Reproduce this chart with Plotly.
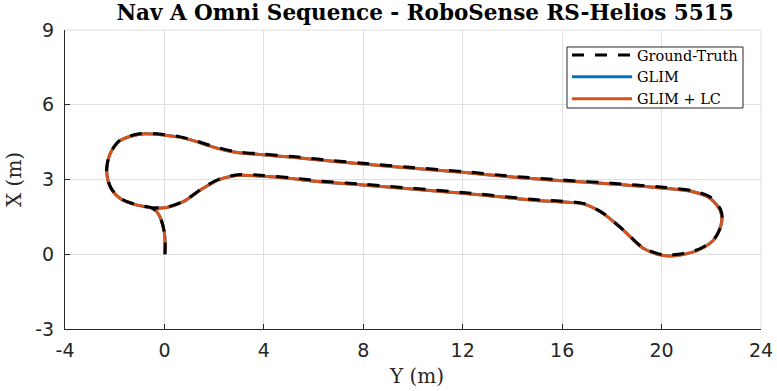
import plotly.graph_objects as go

# Trajectory (horizontal axis = Y in m, vertical axis = X in m)
lc_y = [0.02, 0.03, 0.0, -0.12, -0.3, -0.5, -1.1, -1.75, -2.15, -2.32, -2.2, -1.8, -1.0, -0.05, 0.6, 1.2,
        1.97, 2.8, 3.84, 5.18, 6.26, 8.0, 10.0, 12.0, 14.0, 16.0, 18.0, 20.07, 21.27, 21.95, 22.35, 22.42,
        22.15, 21.55, 20.74, 20.07, 19.26, 18.46, 17.65, 16.85, 15.9, 15.1, 12.0, 8.0, 6.26, 5.18, 3.84,
        3.04, 2.23, 1.56, 0.76, 0.09, -0.5]
lc_x = [0.0, 0.4, 0.85, 1.35, 1.7, 1.85, 1.97, 2.22, 2.65, 3.3, 4.0, 4.55, 4.82, 4.79, 4.7, 4.55,
        4.3, 4.1, 4.0, 3.89, 3.78, 3.62, 3.45, 3.29, 3.1, 2.95, 2.82, 2.65, 2.51, 2.25, 1.78, 1.31,
        0.64, 0.2, -0.03, -0.05, 0.24, 0.97, 1.64, 2.02, 2.11, 2.15, 2.45, 2.78, 2.91, 3.03, 3.14,
        3.17, 3.01, 2.65, 2.11, 1.88, 1.85]

glim_y = list(lc_y)
glim_x = list(lc_x)

gt_y = [0.02, 0.03, 0.0, -0.12, -0.3, -0.5, -1.1, -1.75, -2.15, -2.33, -2.2, -1.8, -1.0, -0.05, 0.6, 1.2,
        1.97, 2.8, 3.84, 5.18, 6.26, 8.0, 10.0, 12.0, 14.0, 16.0, 18.0, 20.07, 21.3, 22.0, 22.38, 22.44,
        22.15, 21.55, 20.74, 20.07, 19.26, 18.46, 17.65, 16.85, 15.9, 15.1, 12.0, 8.0, 6.26, 5.18, 3.84,
        3.04, 2.23, 1.56, 0.76, 0.09, -0.5]
gt_x = [0.0, 0.4, 0.85, 1.35, 1.7, 1.86, 1.98, 2.23, 2.66, 3.3, 4.01, 4.57, 4.84, 4.81, 4.72, 4.57,
        4.33, 4.13, 4.03, 3.92, 3.81, 3.65, 3.48, 3.32, 3.13, 2.98, 2.85, 2.69, 2.54, 2.27, 1.78, 1.31,
        0.66, 0.23, 0.01, -0.02, 0.26, 0.98, 1.65, 2.04, 2.14, 2.18, 2.48, 2.81, 2.94, 3.06, 3.17,
        3.2, 3.03, 2.67, 2.12, 1.89, 1.86]

x_ticks = [-4, 0, 4, 8, 12, 16, 20, 24]
y_ticks = [-3, 0, 3, 6, 9]

BLUE = "#0072BD"
ORANGE = "#D95319"

W, H = 777, 391
L, R, T, B = 65, 16, 30, 62
PW, PH = W - L - R, H - T - B


def px(x):
    return (x - L) / PW


def py(y):
    return (H - B - y) / PH


fig = go.Figure()
fig.add_trace(go.Scatter(x=glim_y, y=glim_x, mode="lines", name="GLIM", legendrank=2,
                         line=dict(color=BLUE, width=3, shape="spline", smoothing=0.8)))
fig.add_trace(go.Scatter(x=lc_y, y=lc_x, mode="lines", name="GLIM + LC", legendrank=3,
                         line=dict(color=ORANGE, width=3, shape="spline", smoothing=0.8)))
fig.add_trace(go.Scatter(x=gt_y, y=gt_x, mode="lines", name="Ground-Truth", legendrank=1,
                         line=dict(color="black", width=3, dash="12px,11px", shape="spline", smoothing=0.8)))

tick_font = dict(family="DejaVu Sans", size=19, color="#262626")
fig.update_layout(
    width=W, height=H,
    margin=dict(l=L, r=R, t=T, b=B, autoexpand=False),
    paper_bgcolor="white", plot_bgcolor="white",
    title=dict(text="<b>Nav A Omni Sequence - RoboSense RS-Helios 5515</b>",
               x=425 / W, xanchor="center", xref="container",
               y=1 - 12 / H, yanchor="middle", yref="container",
               font=dict(family="DejaVu Serif", size=21.5, color="black")),
    xaxis=dict(range=[-4, 24], tickvals=x_ticks, ticktext=[str(v) for v in x_ticks],
               automargin=False,
               showgrid=True, gridcolor="#dfdfdf", gridwidth=1, zeroline=False,
               showline=True, linecolor="#262626", linewidth=1,
               ticks="inside", ticklen=5, tickcolor="#262626", tickfont=tick_font,
               ticklabelstandoff=4),
    yaxis=dict(range=[-3, 9], tickvals=y_ticks, ticktext=[str(v) for v in y_ticks],
               automargin=False,
               showgrid=True, gridcolor="#dfdfdf", gridwidth=1, zeroline=False,
               showline=True, linecolor="#262626", linewidth=1,
               ticks="inside", ticklen=5, tickcolor="#262626", tickfont=tick_font,
               ticklabelstandoff=6),
    legend=dict(x=px(567), y=py(39), xanchor="left", yanchor="top",
                bgcolor="rgba(0,0,0,0)", borderwidth=0,
                font=dict(family="DejaVu Serif", size=14.5, color="black"),
                itemwidth=60, tracegroupgap=0),
    showlegend=True,
)
# light edge lines at top and right (grid-coloured)
fig.add_shape(type="line", xref="paper", yref="paper", x0=0, x1=1, y0=1, y1=1,
              line=dict(color="#dfdfdf", width=1))
fig.add_shape(type="line", xref="paper", yref="paper", x0=1, x1=1, y0=0, y1=1,
              line=dict(color="#dfdfdf", width=1))
# legend box
fig.add_shape(type="rect", xref="paper", yref="paper", layer="above",
              x0=px(567), x1=px(743), y0=py(108), y1=py(47),
              fillcolor="white", line=dict(color="#262626", width=1))

# axis titles
fig.add_annotation(text="Y (m)", xref="paper", yref="paper", x=px(416), y=py(376),
                   xanchor="center", yanchor="middle", showarrow=False,
                   font=dict(family="DejaVu Serif", size=20, color="#262626"))
fig.add_annotation(text="X (m)", xref="paper", yref="paper", x=px(14), y=py(180),
                   xanchor="center", yanchor="middle", showarrow=False, textangle=-90,
                   font=dict(family="DejaVu Serif", size=20, color="#262626"))

fig.write_html("out.html", config={"displayModeBar": False},
               post_script="document.body.style.margin='0';document.body.style.padding='0';")
